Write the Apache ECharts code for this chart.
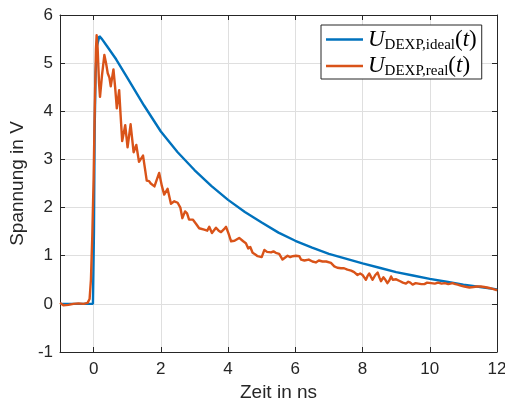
<!DOCTYPE html>
<html>
<head>
<meta charset="utf-8">
<script src="https://cdn.jsdelivr.net/npm/echarts@6/dist/echarts.min.js"></script>
<style>
  html, body { margin: 0; padding: 0; background: #fff; }
  #chart { width: 505px; height: 403px; }
</style>
</head>
<body>
<div id="chart"></div>
<script>
// Ideal double-exponential pulse (time in ns, voltage in V)
const idealTime = [-1, -0.02, 0, 0.01, 0.03, 0.06, 0.10, 0.17, 0.25, 0.40, 0.67, 1.0, 1.5, 2.0, 2.5, 3.0, 3.5,
  4.0, 4.5, 5.0, 5.5, 6.0, 6.5, 7.0, 7.5, 8.0, 8.5, 9.0, 9.5, 10.0, 10.5, 11.0, 11.5, 12.0];
const idealVolt = [0, 0, 0, 1.5, 3.6, 4.8, 5.35, 5.56, 5.50, 5.35, 5.08, 4.70, 4.12, 3.58, 3.15, 2.78, 2.45,
  2.16, 1.91, 1.69, 1.48, 1.31, 1.17, 1.04, 0.94, 0.84, 0.75, 0.66, 0.59, 0.52, 0.46, 0.40, 0.35, 0.30];

// Measured pulse (time in ns, voltage in V)
const realTime = [-1.00, -0.95, -0.90, -0.85, -0.75, -0.60, -0.45, -0.30, -0.18, -0.12, -0.08, -0.04, 0.00, 0.04,
  0.07, 0.09, 0.12, 0.16, 0.19, 0.25, 0.32, 0.37, 0.42, 0.47, 0.51, 0.59, 0.64, 0.69, 0.76, 0.80, 0.85, 0.94,
  1.01, 1.10, 1.19, 1.27, 1.35, 1.47, 1.53, 1.58, 1.65, 1.70, 1.81, 1.95, 2.03, 2.10, 2.20, 2.30, 2.40, 2.50,
  2.58, 2.64, 2.72, 2.78, 2.84, 2.95, 3.05, 3.14, 3.29, 3.38, 3.44, 3.52, 3.64, 3.72, 3.79, 3.88, 3.94, 4.02,
  4.09, 4.19, 4.33, 4.45, 4.53, 4.60, 4.66, 4.73, 4.80, 4.88, 5.00, 5.08, 5.16, 5.28, 5.35, 5.42, 5.52, 5.62,
  5.67, 5.77, 5.85, 5.92, 6.02, 6.12, 6.17, 6.27, 6.40, 6.51, 6.61, 6.70, 6.81, 6.92, 7.06, 7.16, 7.25, 7.36,
  7.45, 7.55, 7.66, 7.75, 7.85, 7.93, 8.00, 8.05, 8.10, 8.15, 8.20, 8.25, 8.30, 8.38, 8.45, 8.50, 8.55, 8.62,
  8.68, 8.74, 8.80, 8.85, 8.90, 8.94, 9.00, 9.05, 9.12, 9.20, 9.29, 9.36, 9.42, 9.49, 9.58, 9.66, 9.75, 9.84,
  9.92, 10.04, 10.15, 10.25, 10.35, 10.45, 10.55, 10.68, 10.76, 10.83, 10.92, 11.03, 11.18, 11.30, 11.40,
  11.52, 11.62, 11.70, 11.77, 11.87, 11.97, 12.00];
const realVolt = [0.02, 0.00, -0.03, -0.01, -0.02, 0.00, 0.01, 0.00, 0.02, 0.10, 0.50, 1.40, 2.60, 4.30,
  5.30, 5.58, 5.30, 4.60, 4.30, 4.75, 5.17, 5.00, 4.79, 4.70, 4.52, 4.87, 4.50, 4.06, 4.44, 3.95, 3.38, 3.71,
  3.25, 3.73, 3.15, 3.30, 2.95, 3.08, 2.80, 2.56, 2.55, 2.50, 2.44, 2.72, 2.45, 2.27, 2.39, 2.08, 2.13, 2.10,
  2.00, 1.78, 1.92, 1.88, 1.75, 1.75, 1.66, 1.57, 1.54, 1.52, 1.60, 1.47, 1.58, 1.52, 1.49, 1.55, 1.60, 1.45,
  1.30, 1.31, 1.37, 1.30, 1.26, 1.15, 1.18, 1.06, 1.03, 0.99, 0.97, 1.12, 1.08, 1.07, 1.09, 1.06, 1.04, 0.92,
  0.92, 1.00, 0.97, 0.99, 1.00, 0.99, 0.92, 0.90, 0.92, 0.88, 0.86, 0.90, 0.88, 0.88, 0.85, 0.78, 0.75, 0.74,
  0.74, 0.71, 0.69, 0.66, 0.60, 0.63, 0.60, 0.55, 0.50, 0.58, 0.63, 0.56, 0.50, 0.60, 0.65, 0.55, 0.47, 0.55,
  0.50, 0.43, 0.49, 0.57, 0.50, 0.46, 0.51, 0.52, 0.47, 0.44, 0.42, 0.46, 0.44, 0.40, 0.43, 0.42, 0.41, 0.41,
  0.44, 0.43, 0.42, 0.44, 0.42, 0.43, 0.41, 0.43, 0.41, 0.40, 0.38, 0.36, 0.34, 0.35, 0.36,
  0.36, 0.35, 0.34, 0.33, 0.31, 0.29, 0.28];

// Axis ticks
const xTicks = [0, 2, 4, 6, 8, 10, 12];
const yMin = -1, yMax = 6, yStep = 1;
const xMin = -1, xMax = 12;

const zip = (a, b) => a.map((v, i) => [v, b[i]]);

const axisColor = '#262626';
const gridColor = '#dfdfdf';
const tickFont = 'Liberation Sans, Arial, Helvetica, sans-serif';

const legendNames = {
  ideal: 'ideal',
  real: 'real'
};

const chart = echarts.init(document.getElementById('chart'), null, { renderer: 'canvas' });

const richStyles = {
  u: { fontFamily: 'Liberation Serif', fontStyle: 'italic', fontSize: 23, lineHeight: 26, color: '#000' },
  s: { fontFamily: 'Liberation Serif', fontSize: 15, lineHeight: 19, verticalAlign: 'bottom', color: '#000' },
  p: { fontFamily: 'Liberation Serif', fontSize: 23, lineHeight: 26, color: '#000' },
  t: { fontFamily: 'Liberation Serif', fontStyle: 'italic', fontSize: 23, lineHeight: 26, color: '#000' }
};

chart.setOption({
  animation: false,
  backgroundColor: '#fff',
  grid: { left: 60, right: 8, top: 15, bottom: 51, containLabel: false, outerBoundsMode: 'none' },
  legend: {
    left: 321,
    top: 25,
    orient: 'vertical',
    backgroundColor: '#fff',
    borderColor: axisColor,
    borderWidth: 1,
    borderRadius: 0,
    padding: [3, 5, 0, 5],
    itemGap: 2,
    itemWidth: 37,
    itemHeight: 2.4,
    icon: 'rect',
    data: ['ideal', 'real'],
    formatter: function (name) {
      return '{u|U}{s|DEXP,' + legendNames[name] + '}{p|(}{t|t}{p|)}';
    },
    textStyle: { rich: richStyles }
  },
  xAxis: [
    {
      type: 'value', position: 'bottom', min: xMin, max: xMax,
      axisLine: { show: true, onZero: false, lineStyle: { color: axisColor, width: 1 } },
      axisTick: { show: true, inside: true, length: 5, customValues: xTicks, lineStyle: { color: axisColor } },
      axisLabel: { show: true, customValues: xTicks, margin: 9, color: axisColor, fontSize: 17, fontFamily: tickFont },
      splitLine: { show: true, lineStyle: { color: gridColor, width: 1 } },
      name: 'Zeit in ns', nameLocation: 'middle', nameGap: 30,
      nameTextStyle: { color: axisColor, fontSize: 19, fontFamily: tickFont }
    },
    {
      type: 'value', position: 'top', min: xMin, max: xMax,
      axisLine: { show: true, onZero: false, lineStyle: { color: axisColor, width: 1 } },
      axisTick: { show: true, inside: true, length: 5, customValues: xTicks, lineStyle: { color: axisColor } },
      axisLabel: { show: false },
      splitLine: { show: false }
    }
  ],
  yAxis: [
    {
      type: 'value', position: 'left', min: yMin, max: yMax, interval: yStep,
      axisLine: { show: true, onZero: false, lineStyle: { color: axisColor, width: 1 } },
      axisTick: { show: true, inside: true, length: 5, lineStyle: { color: axisColor } },
      axisLabel: { show: true, margin: 7, color: axisColor, fontSize: 17, fontFamily: tickFont },
      splitLine: { show: true, lineStyle: { color: gridColor, width: 1 } },
      name: 'Spannung in V', nameLocation: 'middle', nameGap: 29,
      nameTextStyle: { color: axisColor, fontSize: 19, fontFamily: tickFont }
    },
    {
      type: 'value', position: 'right', min: yMin, max: yMax, interval: yStep,
      axisLine: { show: true, onZero: false, lineStyle: { color: axisColor, width: 1 } },
      axisTick: { show: true, inside: true, length: 5, lineStyle: { color: axisColor } },
      axisLabel: { show: false },
      splitLine: { show: false }
    }
  ],
  series: [
    {
      name: 'ideal', type: 'line', xAxisIndex: 0, yAxisIndex: 0,
      data: zip(idealTime, idealVolt),
      showSymbol: false, symbol: 'none', smooth: false,
      lineStyle: { color: '#0072BD', width: 2.4 },
      itemStyle: { color: '#0072BD' },
      z: 2
    },
    {
      name: 'real', type: 'line', xAxisIndex: 0, yAxisIndex: 0,
      data: zip(realTime, realVolt),
      showSymbol: false, symbol: 'none', smooth: false,
      lineStyle: { color: '#D95319', width: 2.4, join: 'round' },
      itemStyle: { color: '#D95319' },
      z: 3
    }
  ]
});
</script>
</body>
</html>
